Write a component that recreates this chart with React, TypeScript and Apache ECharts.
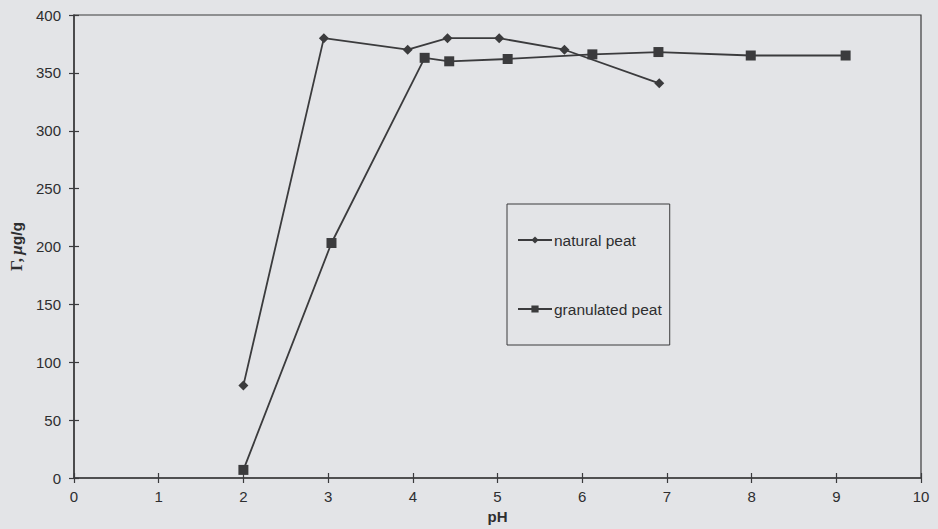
import React, { useEffect, useRef } from "react";
import * as echarts from "echarts";

const naturalPH = [2, 2.95, 3.94, 4.41, 5.02, 5.79, 6.91];
const naturalG = [80, 380, 370, 380, 380, 370, 341];
const granulatedPH = [2, 3.04, 4.14, 4.43, 5.12, 6.12, 6.9, 7.99, 9.11];
const granulatedG = [7, 203, 363, 360, 362, 366, 368, 365, 365];
const seriesNames = ["natural peat", "granulated peat"];

const ink = "#3b3b3d";
const font = "'Liberation Sans', Arial, sans-serif";

export default function App() {
  const ref = useRef<HTMLDivElement>(null);
  useEffect(() => {
    document.body.style.margin = "0";
    const chart = echarts.init(ref.current!, null, { renderer: "svg" });
    const xBase = {
      type: "value",
      min: 0,
      max: 10,
      interval: 1,
      splitLine: { show: false },
    };
    const yBase = {
      type: "value",
      min: 0,
      max: 400,
      interval: 50,
      splitLine: { show: false },
    };
    chart.setOption({
      animation: false,
      backgroundColor: "#e3e4e7",
      grid: {
        left: 73,
        right: 17,
        top: 15,
        bottom: 47,
        show: true,
        borderColor: ink,
        borderWidth: 1.2,
        backgroundColor: "transparent",
      },
      legend: {
        left: 507,
        top: 204,
        orient: "vertical",
        padding: [28, 8, 28, 10],
        itemGap: 53,
        itemWidth: 34,
        itemHeight: 9,
        borderColor: ink,
        borderWidth: 1,
        textStyle: { fontFamily: font, fontSize: 15.5, color: "#2e2e30", padding: [0, 0, 0, -3] },
        data: seriesNames,
      },
      xAxis: [
        {
          ...xBase,
          name: "pH",
          nameLocation: "middle",
          nameGap: 31,
          nameTextStyle: { fontFamily: font, fontSize: 15, fontWeight: "bold", color: "#2e2e30" },
          axisLine: { lineStyle: { color: ink, width: 1.5 } },
          axisTick: { show: true, length: 5, lineStyle: { color: ink, width: 1.2 } },
          axisLabel: { fontFamily: font, fontSize: 15, color: "#2e2e30", margin: 11 },
        },
        {
          ...xBase,
          position: "bottom",
          axisLine: { show: false },
          axisTick: { show: true, inside: true, length: 5, lineStyle: { color: ink, width: 1.2 } },
          axisLabel: { show: false },
        },
      ],
      yAxis: [
        {
          ...yBase,
          name: "{g|Γ,} {m|μ}{u|g/g}",
          nameLocation: "middle",
          nameGap: 49,
          nameTextStyle: {
            color: "#2e2e30",
            rich: {
              g: { fontFamily: "'Liberation Serif', serif", fontSize: 17, fontWeight: "bold", color: "#2e2e30" },
              m: { fontFamily: "'Liberation Serif', serif", fontSize: 17, fontWeight: "bold", fontStyle: "italic", color: "#2e2e30" },
              u: { fontFamily: font, fontSize: 15.5, fontWeight: "bold", color: "#2e2e30" },
            },
          },
          axisLine: { show: true, lineStyle: { color: ink, width: 1.5 } },
          axisTick: { show: true, length: 5, lineStyle: { color: ink, width: 1.2 } },
          axisLabel: { fontFamily: font, fontSize: 15, color: "#2e2e30", margin: 13 },
        },
        {
          ...yBase,
          position: "left",
          axisLine: { show: false },
          axisTick: { show: true, inside: true, length: 5, lineStyle: { color: ink, width: 1.2 } },
          axisLabel: { show: false },
        },
      ],
      series: [
        {
          name: seriesNames[0],
          type: "line",
          xAxisIndex: 0,
          yAxisIndex: 0,
          data: naturalPH.map((x, i) => [x, naturalG[i]]),
          symbol: "diamond",
          symbolSize: 10,
          lineStyle: { color: ink, width: 1.8 },
          itemStyle: { color: ink },
        },
        {
          name: seriesNames[1],
          type: "line",
          xAxisIndex: 0,
          yAxisIndex: 0,
          data: granulatedPH.map((x, i) => [x, granulatedG[i]]),
          symbol: "rect",
          symbolSize: 10,
          lineStyle: { color: ink, width: 1.8 },
          itemStyle: { color: ink },
        },
      ],
    });
    return () => chart.dispose();
  }, []);
  return <div ref={ref} style={{ width: 938, height: 529 }} />;
}
